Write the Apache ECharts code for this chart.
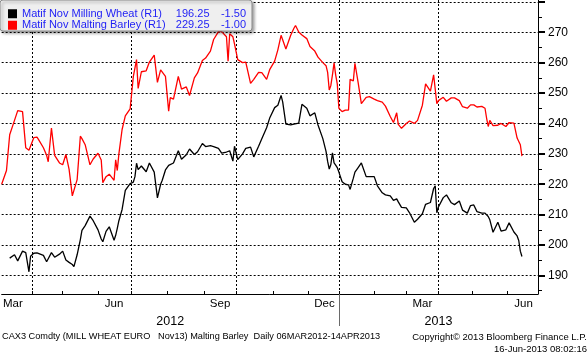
<!DOCTYPE html>
<html><head><meta charset="utf-8">
<script src="https://cdn.jsdelivr.net/npm/echarts@6/dist/echarts.min.js"></script>
<style>html,body{margin:0;padding:0;background:#fff}#c{width:588px;height:356px}</style>
</head><body><div id="c"></div>
<script>
// ---------- data ----------
const holidays = ['2012-04-06','2012-04-09','2012-05-01','2012-12-25','2012-12-26','2013-01-01','2013-03-29','2013-04-01','2013-05-01'];
const monthNames = ['Jan','Feb','Mar','Apr','May','Jun','Jul','Aug','Sep','Oct','Nov','Dec'];
const labelMonths = [3, 6, 9, 12];
const gridMonths = [1, 4, 7, 10];
const yTicks = [190, 200, 210, 220, 230, 240, 250, 260, 270, 280];
const yTickLabels = [190, 200, 210, 220, 230, 240, 250, 260, 270];
const yMinorTicks = [185, 195, 205, 215, 225, 235, 245, 255, 265, 275];
const seriesNames = ['Matif Nov Milling Wheat (R1)', 'Matif Nov Malting Barley (R1)'];
const lastValues = ['196.25', '229.25'];
const netChanges = ['-1.50', '-1.00'];

const sampleDates = [
'2012-03-06','2012-03-09','2012-03-13','2012-03-16','2012-03-20','2012-03-23','2012-03-27','2012-03-29','2012-03-30',
'2012-04-03','2012-04-05','2012-04-10','2012-04-13','2012-04-17','2012-04-18','2012-04-20','2012-04-24','2012-04-27',
'2012-05-02','2012-05-04','2012-05-08','2012-05-10','2012-05-11','2012-05-15','2012-05-17','2012-05-18','2012-05-22','2012-05-25','2012-05-29',
'2012-06-01','2012-06-05','2012-06-06','2012-06-08','2012-06-12','2012-06-15','2012-06-18','2012-06-19','2012-06-20','2012-06-22','2012-06-26','2012-06-29',
'2012-07-03','2012-07-04','2012-07-05','2012-07-06','2012-07-10','2012-07-13','2012-07-17','2012-07-20','2012-07-24','2012-07-26','2012-07-27','2012-07-31',
'2012-08-02','2012-08-03','2012-08-07','2012-08-10','2012-08-14','2012-08-17','2012-08-21','2012-08-24','2012-08-28','2012-08-31',
'2012-09-04','2012-09-07','2012-09-11','2012-09-14','2012-09-18','2012-09-21','2012-09-24','2012-09-25','2012-09-27','2012-09-28',
'2012-10-02','2012-10-05','2012-10-09','2012-10-12','2012-10-16','2012-10-19','2012-10-23','2012-10-26','2012-10-30',
'2012-11-02','2012-11-06','2012-11-08','2012-11-09','2012-11-13','2012-11-16','2012-11-20','2012-11-21','2012-11-23','2012-11-27','2012-11-30',
'2012-12-04','2012-12-07','2012-12-11','2012-12-14','2012-12-18','2012-12-19','2012-12-20','2012-12-21','2012-12-24','2012-12-27','2012-12-28','2012-12-31',
'2013-01-02','2013-01-04','2013-01-08','2013-01-10','2013-01-11','2013-01-15','2013-01-16','2013-01-18','2013-01-22','2013-01-25','2013-01-29',
'2013-02-01','2013-02-05','2013-02-08','2013-02-12','2013-02-15','2013-02-19','2013-02-21','2013-02-22','2013-02-26',
'2013-03-01','2013-03-05','2013-03-08','2013-03-12','2013-03-15','2013-03-19','2013-03-22','2013-03-26','2013-03-27','2013-03-28',
'2013-04-02','2013-04-05','2013-04-09','2013-04-12','2013-04-16','2013-04-19','2013-04-23','2013-04-26','2013-04-30',
'2013-05-03','2013-05-07','2013-05-10','2013-05-14','2013-05-15','2013-05-16','2013-05-17','2013-05-21','2013-05-24','2013-05-28','2013-05-31',
'2013-06-04','2013-06-07','2013-06-11','2013-06-12','2013-06-13','2013-06-14'
];

const barley = [
220,224.5,236.3,241,244.2,243.9,232,231.2,231.6,
235.3,235.5,234.7,232,229.5,227.4,238.5,229.5,227,
226.4,229.8,224.9,216.2,218,221.5,235.8,235,233,226.4,228.3,
230.2,228,220.5,222.5,223.3,221.3,228,224.5,230,238,242.5,244.8,
255.5,256,261,251.5,257,257.3,260.2,262.5,253.5,257.6,257.6,255.5,
244,248.5,248,255.5,251.3,252,249.2,255,256.6,260.7,
261.5,263.8,267.6,270.2,270.2,268.5,260.5,269.5,268.5,266.2,
261,260,260.2,253.2,254.5,256.8,256.7,254.5,257.8,
260.5,264.2,269,268.8,264.5,269,271.3,272.2,270.1,269.1,267.9,
265.3,263.8,261.8,260,259,256.8,251,252.5,256,259.9,256,253,
245,243.9,244.4,244.4,254.5,254,259.8,253.4,246.5,248.6,248.8,
248,247.5,247,245.7,242.3,240.3,243.5,239.7,238.4,
240,240.8,240,241,246,253,250.6,256,256,246.5,
247.5,248.6,247.3,248.4,248.4,247.5,245.5,245,246.1,
246.1,245.4,245.6,245,241.7,239,241,239.3,239.4,240,239,
240.3,240.1,235.2,234.6,233,229.25
];

const wheat = [
null,null,195.7,196.8,194.8,198,197.5,191.2,196.3,
197.3,197.4,197.4,196.6,194.5,195.5,197.5,196,197,
198,195.1,194.3,193.6,192.9,196.8,201.8,204.8,206.4,209.5,208,
205,202,201.1,204.5,206,201.6,203.2,205.5,208,211.7,218,220.2,
220.7,222.5,226.9,224.8,226,224.1,227,224,215.5,220,221.3,224.7,
226.2,226.5,227,231,228.2,229.7,231.6,229.8,230.7,233.4,
232.4,232.7,232.4,231.8,230.2,230.6,230.8,231,227.6,232.5,
228.1,230,231.8,232.2,229,232.5,235,238.6,241.9,
245.2,246,249.2,247.1,239.8,239.5,239.8,240,240.1,246.3,245,
242.5,243.5,239.5,235,230.8,227.5,225,226.5,230.3,227,226.3,225.5,
224,220.8,220,219.8,218.3,222,224,225.5,227,222.5,222.5,
222.5,219.5,217.2,216.5,216.2,214.7,215.2,214.2,212.4,
212.2,210.6,207.5,208.5,210.3,213.4,214,218.6,219.5,210.6,
212.5,215.6,216.5,213.9,213.3,214.5,211.5,210.5,213,
213.2,211,210.5,210.5,210.5,209.4,208.3,204.2,207.5,204.6,205,
207.3,204.3,203,201.5,198,196.25
];

// ---------- trading-day category axis ----------
const days = [];
for (let t = Date.UTC(2012, 2, 6); t <= Date.UTC(2013, 5, 28); t += 86400000) {
  const d = new Date(t);
  const w = d.getUTCDay();
  if (w === 0 || w === 6) continue;
  const s = d.toISOString().slice(0, 10);
  if (holidays.indexOf(s) >= 0) continue;
  days.push(s);
}
const mon = s => +s.slice(5, 7);
const dayOf = s => +s.slice(8, 10);
const yr = s => s.slice(0, 4);
const isMonthStart = i => i > 0 && mon(days[i]) !== mon(days[i - 1]);
const isQuarterStart = i => isMonthStart(i) && gridMonths.indexOf(mon(days[i])) >= 0;
const isMidLabel = i => labelMonths.indexOf(mon(days[i])) >= 0 && dayOf(days[i]) >= 15 &&
  (i === 0 || mon(days[i - 1]) !== mon(days[i]) || dayOf(days[i - 1]) < 15);
const yearStart = i => i > 0 && yr(days[i]) !== yr(days[i - 1]);
const yearMid = {};
(function () {
  const first = {}, last = {};
  days.forEach((d, i) => { const y = yr(d); if (first[y] == null) first[y] = i; last[y] = i; });
  Object.keys(first).forEach(y => { yearMid[Math.round((first[y] + last[y]) / 2)] = y; });
})();

const FONT = "'Liberation Sans', Arial, sans-serif";
const dotted = { color: '#000', width: 1, type: [2, 2] };

const wheatData = [];
sampleDates.forEach((d, i) => { if (wheat[i] != null) wheatData.push([d, wheat[i]]); });
const barleyData = sampleDates.map((d, i) => [d, barley[i]]);

function tag(val, bg) {
  return {
    silent: true, symbol: 'none', animation: false,
    lineStyle: { opacity: 0 },
    label: { show: true, position: 'end', distance: 2, formatter: val,
      backgroundColor: bg, color: '#fff', fontSize: 12, fontFamily: FONT,
      padding: [2, 3, 2, 6], lineHeight: 13 },
    data: [{ yAxis: +val }]
  };
}

const chart = echarts.init(document.getElementById('c'), null, { renderer: 'canvas' });
chart.setOption({
  animation: false,
  backgroundColor: '#fff',
  textStyle: { fontFamily: FONT },
  title: [
    { text: 'CAX3 Comdty (MILL WHEAT EURO   Nov13) Malting Barley  Daily 06MAR2012-14APR2013',
      left: 2, top: 332, padding: 0,
      textStyle: { fontSize: 9.2, fontWeight: 'normal', color: '#000', fontFamily: FONT } },
    { text: 'Copyright\u00a9 2013 Bloomberg Finance L.P.', right: 1, top: 332, padding: 0,
      textStyle: { fontSize: 9.5, fontWeight: 'normal', color: '#000', fontFamily: FONT } },
    { text: '16-Jun-2013 08:02:16', right: 1, top: 344.5, padding: 0,
      textStyle: { fontSize: 9.5, fontWeight: 'normal', color: '#000', fontFamily: FONT } }
  ],
  legend: {
    left: 0, top: 0, orient: 'vertical', selectedMode: false,
    padding: [8, 6, 0, 8], itemGap: 0, itemWidth: 9, itemHeight: 9, icon: 'rect',
    backgroundColor: '#efefef', borderColor: '#8a8a8a', borderWidth: 1, borderRadius: 3,
    shadowColor: 'rgba(0,0,0,0.35)', shadowBlur: 3, shadowOffsetX: 2, shadowOffsetY: 2,
    data: seriesNames,
    formatter: name => {
      const i = seriesNames.indexOf(name);
      return '{n|' + name + '}{v|' + lastValues[i] + '}{c|' + netChanges[i] + '}';
    },
    textStyle: {
      fontFamily: FONT, fontSize: 11, color: '#1e1ef5', lineHeight: 11.5,
      rich: {
        n: { width: 153, fontSize: 11, color: '#1e1ef5', lineHeight: 11.5, fontFamily: FONT },
        v: { width: 34.5, align: 'right', fontSize: 11, color: '#1e1ef5', lineHeight: 11.5, fontFamily: FONT },
        c: { width: 36.5, align: 'right', fontSize: 11, color: '#1e1ef5', lineHeight: 11.5, fontFamily: FONT }
      }
    }
  },
  grid: { left: 0, right: 50, top: 0, bottom: 62, containLabel: false },
  xAxis: [
    {
      type: 'category', data: days, boundaryGap: false,
      axisLine: { show: true, lineStyle: { color: '#000', width: 1 } },
      axisTick: { show: true, inside: true, length: 3, interval: (i) => isMonthStart(i), lineStyle: { color: '#000' } },
      splitLine: { show: true, interval: (i) => isQuarterStart(i), lineStyle: dotted },
      axisLabel: { show: true, interval: (i) => isMidLabel(i), margin: 4,
        formatter: v => monthNames[mon(v) - 1], color: '#000', fontSize: 11.5, fontFamily: FONT }
    },
    {
      type: 'category', data: days, boundaryGap: false, position: 'bottom', offset: 17,
      axisLine: { show: false }, axisTick: { show: false }, splitLine: { show: false },
      axisLabel: { show: true, interval: (i) => yearMid[i] != null, margin: 4,
        formatter: v => yr(v), color: '#000', fontSize: 12.5, fontFamily: FONT }
    },
    {
      type: 'category', data: days, boundaryGap: false, position: 'bottom', offset: 0,
      axisLine: { show: false }, splitLine: { show: false }, axisLabel: { show: false },
      axisTick: { show: true, length: 32, interval: (i) => yearStart(i), lineStyle: { color: '#6a6a6a', width: 1 } }
    }
  ],
  yAxis: [
    {
      type: 'value', position: 'right', min: 183.9, max: 280.6, splitNumber: 10,
      axisLine: { show: true, lineStyle: { color: '#000', width: 1 } },
      axisTick: { show: true, length: 7, customValues: yTicks, lineStyle: { color: '#000', width: 2 } },
      axisLabel: { show: true, customValues: yTickLabels, margin: 10, color: '#000', fontSize: 12, fontFamily: FONT,
        formatter: v => (yTickLabels.indexOf(v) >= 0 ? String(v) : '') },
      splitLine: { show: true, lineStyle: dotted }
    },
    {
      type: 'value', position: 'right', min: 183.9, max: 280.6,
      axisLine: { show: false },
      axisTick: { show: true, length: 4, customValues: yMinorTicks, lineStyle: { color: '#000', width: 1 } },
      axisLabel: { show: false }, splitLine: { show: false }
    }
  ],
  series: [
    { name: seriesNames[0], type: 'line', data: wheatData, xAxisIndex: 0, yAxisIndex: 0,
      showSymbol: false, symbol: 'none', lineStyle: { color: '#000', width: 1.3 }, itemStyle: { color: '#000' },
      z: 3, markLine: tag(lastValues[0], '#000') },
    { name: seriesNames[1], type: 'line', data: barleyData, xAxisIndex: 0, yAxisIndex: 0,
      showSymbol: false, symbol: 'none', lineStyle: { color: '#ff0000', width: 1.3 }, itemStyle: { color: '#ff0000' },
      z: 3, markLine: tag(lastValues[1], '#ff0000') }
  ]
});
</script>
</body></html>
